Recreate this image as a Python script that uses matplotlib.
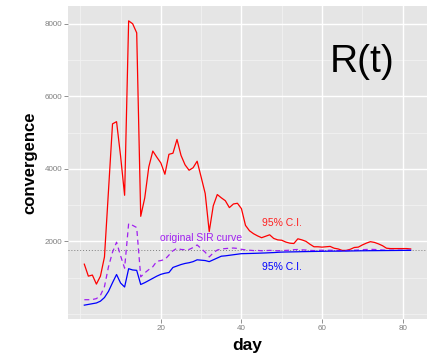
import matplotlib
matplotlib.use("Agg")
import matplotlib.pyplot as plt
import numpy as np

plt.rcParams['font.family'] = ['Liberation Sans', 'DejaVu Sans']

days = np.arange(1, 83)

upper_ci = [
    1370, 1040, 1070, 820, 1040, 1570, 3400, 5240, 5300, 4350,
    3270, 8080, 8000, 7750, 2690, 3200, 4050, 4490, 4320, 4160,
    3850, 4400, 4430, 4810, 4370, 4110, 3960, 4030, 4210, 3770,
    3320, 2270, 2980, 3290, 3200, 3120, 2930, 3030, 3050, 2900,
    2440, 2290, 2210, 2150, 2100, 2140, 2180, 2080, 2040, 2030,
    1980, 1950, 1940, 2070, 2040, 2000, 1920, 1850, 1850, 1840,
    1850, 1860, 1810, 1790, 1750, 1750, 1780, 1830, 1840, 1900,
    1950, 1990, 1970, 1930, 1880, 1810, 1800, 1800, 1800, 1800,
    1800, 1790,
]

lower_ci = [
    240, 260, 280, 300, 350, 450, 620, 860, 1085, 850,
    740, 1245, 1210, 1200, 810, 860, 920, 980, 1040, 1090,
    1120, 1140, 1280, 1320, 1360, 1390, 1410, 1440, 1490, 1480,
    1470, 1440, 1490, 1540, 1590, 1600, 1615, 1630, 1645, 1660,
    1662, 1665, 1668, 1672, 1676, 1680, 1685, 1690, 1697, 1703,
    1706, 1708, 1710, 1712, 1715, 1717, 1719, 1721, 1723, 1725,
    1727, 1728, 1729, 1730, 1731, 1732, 1734, 1736, 1738, 1740,
    1741, 1742, 1743, 1744, 1745, 1746, 1747, 1748, 1749, 1750,
    1751, 1752,
]

mean_curve = [
    390, 390, 395, 420, 510, 750, 1300, 1700, 1975, 1600,
    1260, 2490, 2440, 2380, 1020, 1130, 1220, 1300, 1450, 1470,
    1500, 1620, 1740, 1810, 1775, 1770, 1775, 1830, 1900, 1800,
    1700, 1570, 1680, 1760, 1790, 1800, 1810, 1815, 1805, 1780,
    1765, 1755, 1745, 1750, 1740, 1745, 1750, 1745, 1740, 1745,
    1750, 1755, 1770, 1775, 1765, 1760, 1750, 1745, 1750, 1755,
    1750, 1755, 1750, 1745, 1740, 1745, 1750, 1755, 1760, 1770,
    1775, 1780, 1775, 1770, 1760, 1755, 1755, 1755, 1755, 1755,
    1755, 1755,
]

r_true = 1752

x_major = [20, 40, 60, 80]
x_minor = [0, 10, 30, 50, 70]
y_major = [2000, 4000, 6000, 8000]
y_minor = [0, 1000, 3000, 5000, 7000]

fig = plt.figure(figsize=(4.28, 3.56), dpi=100)
ax = fig.add_axes([68 / 428, 37 / 356, 359 / 428, 313 / 356])
ax.set_facecolor('#E5E5E5')

for v in x_minor:
    ax.axvline(v, color='#F2F2F2', lw=0.6, zorder=0)
for v in y_minor:
    ax.axhline(v, color='#F2F2F2', lw=0.6, zorder=0)
for v in x_major:
    ax.axvline(v, color='white', lw=1.0, zorder=0)
for v in y_major:
    ax.axhline(v, color='white', lw=1.0, zorder=0)

ax.axhline(r_true, color='#7F7F7F', lw=0.7, linestyle=(0, (1, 2)), zorder=1)

ax.plot(days, upper_ci, color='#FF0000', lw=0.9, zorder=2)
ax.plot(days, mean_curve, color='#A020F0', lw=0.9, linestyle=(0, (4, 3)), zorder=2)
ax.plot(days, lower_ci, color='#0000FF', lw=0.9, zorder=3)

ax.text(50, 2500, '95% C.I.', color='#FF2020', fontsize=7.5, ha='center', va='center')
ax.text(50, 1280, '95% C.I.', color='#0000FF', fontsize=7.5, ha='center', va='center')
ax.text(30, 2080, 'original SIR curve', color='#A020F0', fontsize=7.5, ha='center', va='center')
ax.text(70, 6950, 'R(t)', color='black', fontsize=28, ha='center', va='center')

ax.set_xlim(-3.05, 86.05)
ax.set_ylim(-142, 8490)
ax.set_xticks(x_major)
ax.set_yticks(y_major)
ax.tick_params(axis='both', colors='#7F7F7F', labelsize=5.8, length=2.8, width=0.6, pad=1.5)
for s in ax.spines.values():
    s.set_visible(False)

ax.set_xlabel('day', fontsize=12.5, fontweight='bold', labelpad=4)
ax.set_ylabel('convergence', fontsize=12, fontweight='bold', labelpad=5)

fig.savefig('out.png', dpi=100)
